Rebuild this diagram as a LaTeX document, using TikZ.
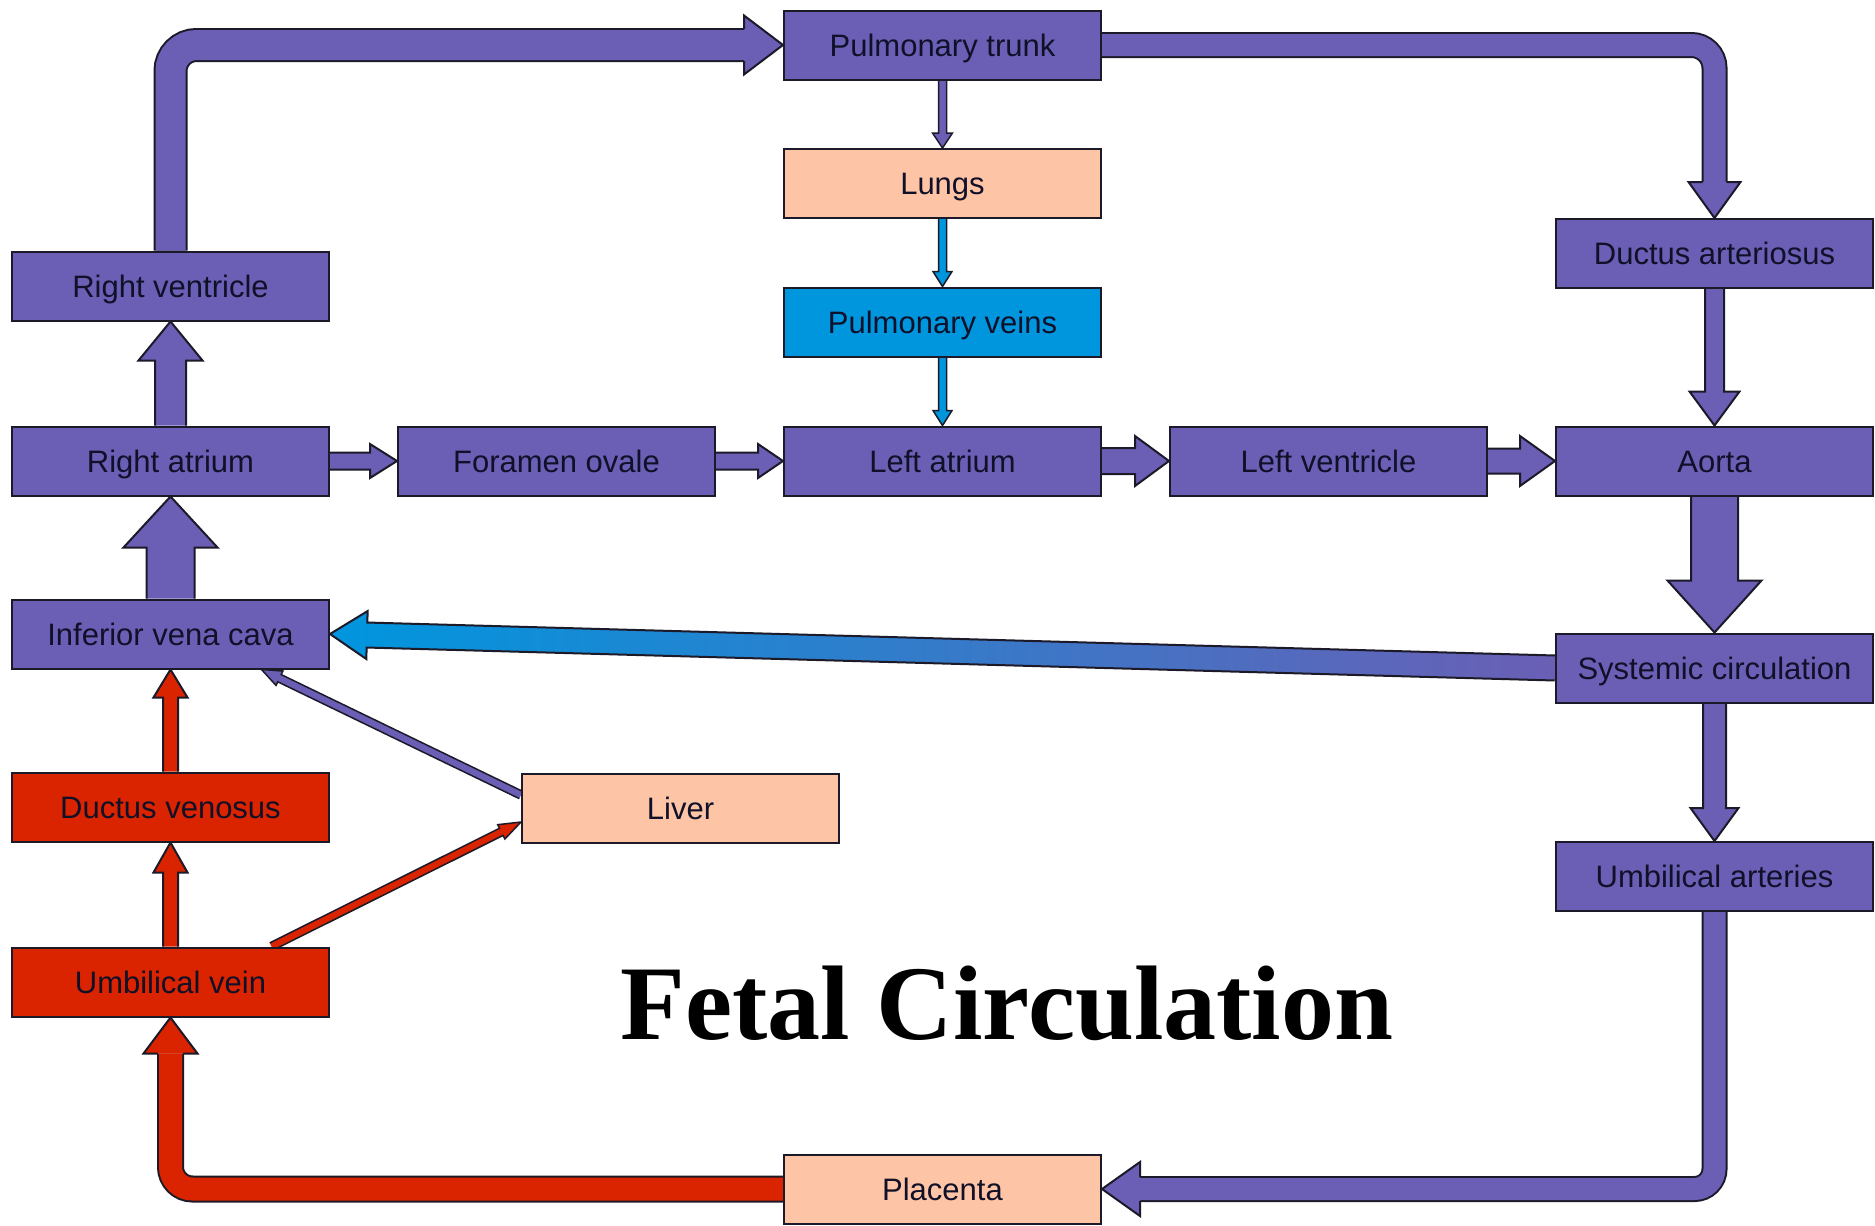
\documentclass[tikz,border=0pt]{standalone}
\usepackage{fontspec}
\setsansfont{Liberation Sans}
\newfontfamily\titlefont{Liberation Serif}
\usetikzlibrary{calc,backgrounds}
\pgfdeclarelayer{bottom}
\pgfsetlayers{bottom,background,main}

\definecolor{vio}{RGB}{106,95,181}
\definecolor{peach}{RGB}{253,196,166}
\definecolor{pvblue}{RGB}{0,150,222}
\definecolor{bloodred}{RGB}{218,36,0}
\definecolor{edge}{RGB}{28,26,40}
\definecolor{ink}{RGB}{16,16,40}

% block arrow: #1 style, #2 start, #3 tip, #4 shaft half width,
% #5 head half width, #6 head length (start edge left open)
\newcommand\barrow[6]{%
  \coordinate (hb) at ($(#3)!#6!(#2)$);
  \filldraw[#1] ($(#2)!#4!90:(#3)$) -- ($(hb)!#4!90:(#3)$) -- ($(hb)!#5!90:(#3)$)
    -- (#3) -- ($(hb)!#5!-90:(#3)$) -- ($(hb)!#4!-90:(#3)$) -- ($(#2)!#4!-90:(#3)$);
}

\begin{document}
\begin{tikzpicture}[x=1pt,y=-1pt,
  box/.style={draw=edge, line width=2pt, minimum width=317pt, minimum height=69pt,
    inner sep=0pt, text height=22.2pt, text depth=0pt, text=ink,
    font=\sffamily\fontsize{31}{36}\selectfont},
  vbox/.style={box, fill=vio},
  pbox/.style={box, fill=peach},
  bbox/.style={box, fill=pvblue},
  rbox/.style={box, fill=bloodred},
  varr/.style={draw=edge, fill=vio, line width=2pt, line join=miter},
  rarr/.style={draw=edge, fill=bloodred, line width=2pt, line join=miter},
  thinv/.style={draw=edge, fill=vio, line width=1.5pt, line join=miter},
  thinb/.style={draw=edge, fill=pvblue, line width=1.5pt, line join=miter},
  thinr/.style={draw=edge, fill=bloodred, line width=1.5pt, line join=miter},
]
\useasboundingbox (0,0) rectangle (1875,1226);
\begin{pgfonlayer}{bottom}
  \fill[white] (0,0) rectangle (1875,1226);
\end{pgfonlayer}

% boxes
\node[vbox] (pt) at (942.5,45) {Pulmonary trunk};
\node[pbox] (lungs) at (942.5,183.5) {Lungs};
\node[bbox] (pv) at (942.5,322) {Pulmonary veins};
\node[vbox] (la) at (942.5,461) {Left atrium};
\node[vbox] (rv) at (170.5,286) {Right ventricle};
\node[vbox] (ra) at (170.5,461) {Right atrium};
\node[vbox] (fo) at (556.5,461) {Foramen ovale};
\node[vbox] (lv) at (1328.5,461) {Left ventricle};
\node[vbox] (ao) at (1714.5,461) {Aorta};
\node[vbox] (da) at (1714.5,253.5) {Ductus arteriosus};
\node[vbox] (ivc) at (170.5,634) {Inferior vena cava};
\node[vbox] (sc) at (1714.5,668) {Systemic circulation};
\node[rbox] (dv) at (170.5,807) {Ductus venosus};
\node[pbox] (liver) at (680.5,808) {Liver};
\node[rbox] (uv) at (170.5,982) {Umbilical vein};
\node[vbox] (ua) at (1714.5,876.5) {Umbilical arteries};
\node[pbox] (pl) at (942.5,1189) {Placenta};

\node[anchor=base, inner sep=0pt, text=black,
  font=\titlefont\bfseries\fontsize{106}{110}\selectfont] (title) at (1007,1039) {Fetal Circulation};

\begin{scope}[on background layer]
  % bent tubes
  \coordinate (a1) at ($(pt.west)+(-39,0)$);
  \draw[line width=34pt, edge, rounded corners=26pt] (rv.north) |- (a1);
  \draw[line width=30pt, vio, rounded corners=26pt] (rv.north) |- (a1);
  \barrow{varr}{a1}{pt.west}{16pt}{29.5pt}{39pt}

  \coordinate (a2) at ($(da.north)+(0,-36)$);
  \draw[line width=26pt, edge, rounded corners=23pt] (pt.east) -| (a2);
  \draw[line width=22pt, vio, rounded corners=23pt] (pt.east) -| (a2);
  \barrow{varr}{a2}{da.north}{12pt}{26pt}{36pt}

  \coordinate (a3) at ($(pl.east)+(38,0)$);
  \draw[line width=26pt, edge, rounded corners=20pt] (ua.south) |- (a3);
  \draw[line width=22pt, vio, rounded corners=20pt] (ua.south) |- (a3);
  \barrow{varr}{a3}{pl.east}{12pt}{27pt}{38pt}

  \coordinate (a4) at ($(uv.south)+(0,36)$);
  \draw[line width=27pt, edge, rounded corners=22pt] (pl.west) -| (a4);
  \draw[line width=23pt, bloodred, rounded corners=22pt] (pl.west) -| (a4);
  \barrow{rarr}{a4}{uv.south}{12.5pt}{27pt}{36pt}

  % pulmonary branch
  \barrow{thinv}{pt.south}{lungs.north}{4pt}{10pt}{15pt}
  \barrow{thinb}{lungs.south}{pv.north}{4pt}{9.5pt}{15pt}
  \barrow{thinb}{pv.south}{la.north}{4pt}{9.5pt}{15pt}

  % heart row
  \barrow{varr}{ra.east}{fo.west}{8.5pt}{17pt}{27pt}
  \barrow{varr}{fo.east}{la.west}{8.5pt}{17pt}{25pt}
  \barrow{varr}{la.east}{lv.west}{13pt}{25pt}{34pt}
  \barrow{varr}{lv.east}{ao.west}{12.5pt}{25pt}{35pt}
  \barrow{varr}{ra.north}{rv.south}{15.5pt}{32pt}{39pt}
  \barrow{varr}{ivc.north}{ra.south}{24pt}{47pt}{51pt}
  \barrow{varr}{da.south}{ao.north}{9.5pt}{25pt}{34pt}
  \barrow{varr}{ao.south}{sc.north}{23.5pt}{47pt}{52pt}
  \barrow{varr}{sc.south}{ua.north}{11.5pt}{24pt}{33pt}

  % venous return
  \barrow{draw=edge, line width=2pt, line join=miter, left color=pvblue, right color=vio}{sc.west}{ivc.east}{12.5pt}{24pt}{37pt}
  \barrow{rarr}{dv.north}{ivc.south}{7.5pt}{17pt}{28pt}
  \barrow{rarr}{uv.north}{dv.south}{7.5pt}{17pt}{30pt}

  \coordinate (lvA) at ($(liver.west)+(0,-13)$);
  \coordinate (lvB) at ($(ivc.south)+(91,0)$);
  \barrow{thinv}{lvA}{lvB}{4pt}{8pt}{20pt}
  \coordinate (uvA) at ($(uv.north)+(101,0)$);
  \coordinate (uvB) at ($(liver.west)+(0,14)$);
  \barrow{thinr}{uvA}{uvB}{4pt}{8pt}{22pt}
\end{scope}
\end{tikzpicture}
\end{document}
